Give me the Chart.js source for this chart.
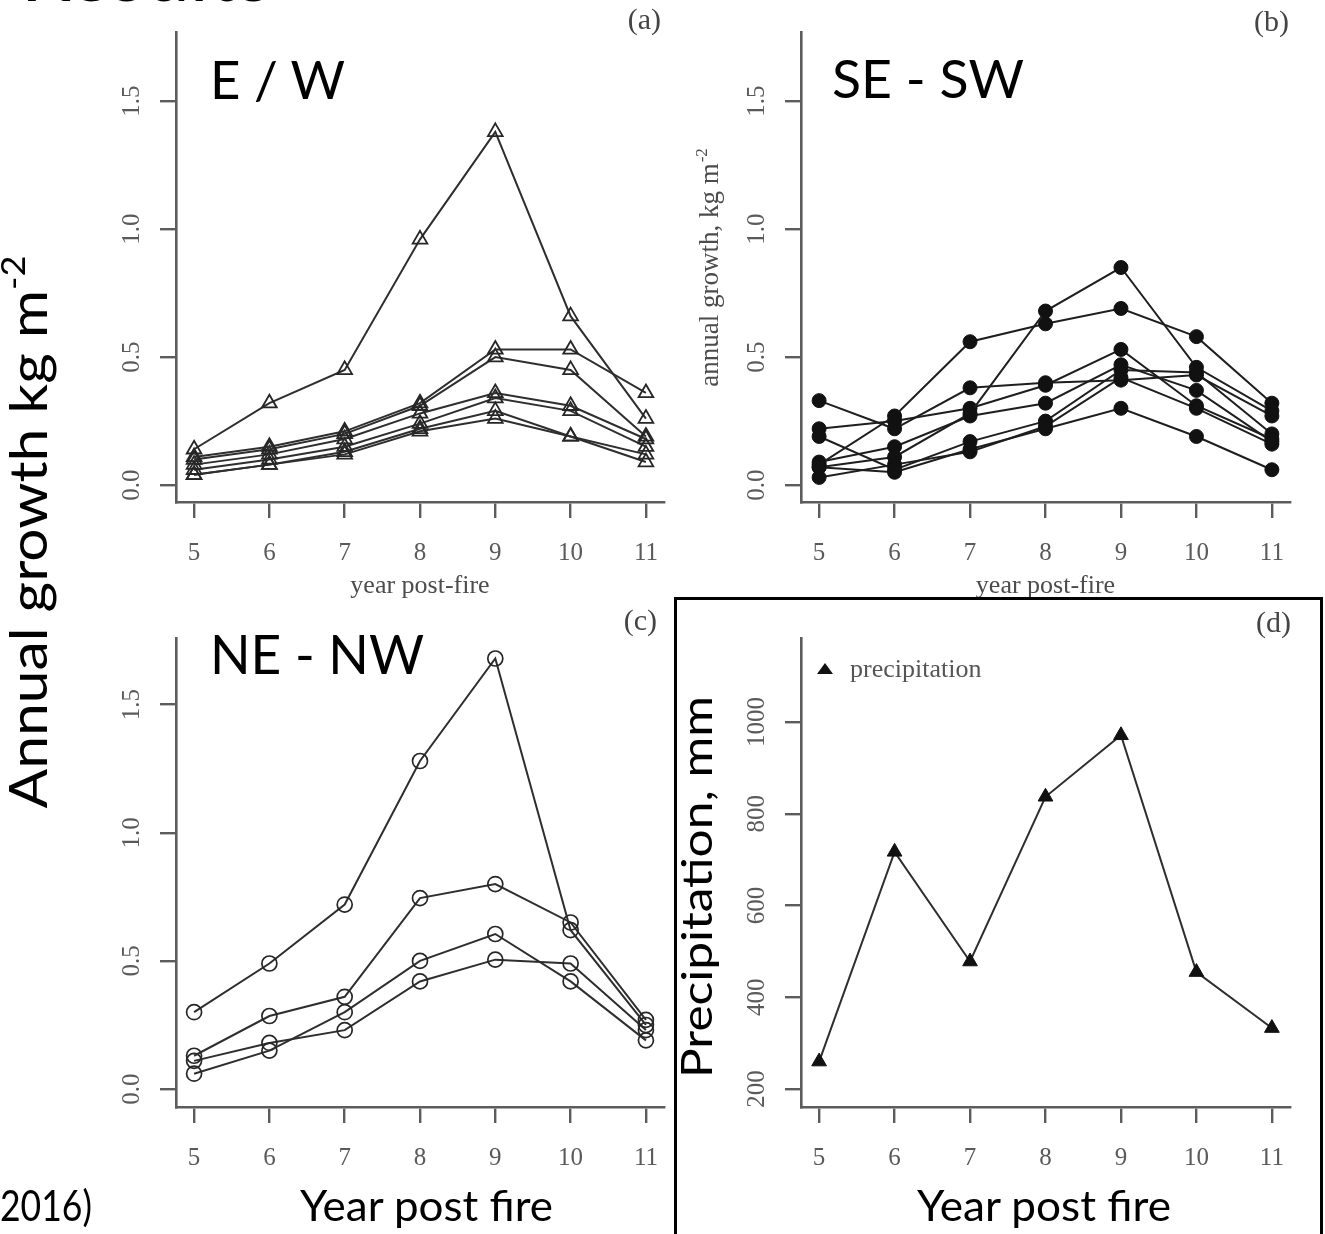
<!DOCTYPE html>
<html>
<head>
<meta charset="utf-8">
<title>Annual growth by aspect and precipitation, year post fire</title>
<script src="https://cdn.jsdelivr.net/npm/chart.js@4.4.1/dist/chart.umd.min.js"></script>
<style>
  html, body { margin: 0; padding: 0; background: #fff; }
  #page { position: relative; width: 1325px; height: 1234px; overflow: hidden; background: #fff; }
  #page canvas, #page svg { position: absolute; left: 0; top: 0; }
  svg text { font-family: Lato, "Open Sans", sans-serif; fill: #000; }
</style>
</head>
<body>
<div id="page">
  <canvas id="chartA" width="1325" height="1234"></canvas>
  <canvas id="chartB" width="1325" height="1234"></canvas>
  <canvas id="chartC" width="1325" height="1234"></canvas>
  <canvas id="chartD" width="1325" height="1234"></canvas>
  <svg width="1325" height="1234" viewBox="0 0 1325 1234">
    <text x="272" y="1" font-size="80" text-anchor="end">Results</text>
    <text x="210" y="99" font-size="52" textLength="135" lengthAdjust="spacingAndGlyphs">E / W</text>
    <text x="832" y="98" font-size="52" textLength="192" lengthAdjust="spacingAndGlyphs">SE - SW</text>
    <text x="210" y="674" font-size="54" textLength="214" lengthAdjust="spacingAndGlyphs">NE - NW</text>
    <text x="300" y="1221" font-size="43" textLength="253" lengthAdjust="spacingAndGlyphs">Year post fire</text>
    <text x="917" y="1221" font-size="43" textLength="254" lengthAdjust="spacingAndGlyphs">Year post fire</text>
    <text x="0" y="1221" font-size="43" textLength="92" lengthAdjust="spacingAndGlyphs">2016)</text>
    <text transform="translate(47,532) rotate(-90)" text-anchor="middle" font-size="52" textLength="553" lengthAdjust="spacingAndGlyphs">Annual growth kg m<tspan font-size="32" dy="-22">-2</tspan></text>
    <text transform="translate(712,887) rotate(-90)" text-anchor="middle" font-size="42" textLength="382" lengthAdjust="spacingAndGlyphs">Precipitation, mm</text>
    <rect x="675.5" y="598.5" width="646" height="700" fill="none" stroke="#000" stroke-width="3"/>
  </svg>
</div>
<script>
const years = [5, 6, 7, 8, 9, 10, 11];
const yearTicks = [5, 6, 7, 8, 9, 10, 11];
const growthTicks = [0, 0.5, 1.0, 1.5];
const precipTicks = [200, 400, 600, 800, 1000];

// (a) E / W - open triangles
const ew1 = [0.14, 0.32, 0.45, 0.96, 1.38, 0.66, 0.26];
const ew2 = [0.11, 0.15, 0.21, 0.32, 0.53, 0.53, 0.36];
const ew3 = [0.10, 0.14, 0.20, 0.31, 0.50, 0.45, 0.19];
const ew4 = [0.08, 0.12, 0.18, 0.28, 0.36, 0.31, 0.18];
const ew5 = [0.06, 0.10, 0.15, 0.24, 0.34, 0.29, 0.15];
const ew6 = [0.04, 0.08, 0.13, 0.22, 0.29, 0.19, 0.12];
const ew7 = [0.04, 0.08, 0.12, 0.21, 0.26, 0.19, 0.09];

// (b) SE - SW - filled circles
const se1 = [0.07, 0.11, 0.28, 0.68, 0.85, 0.46, 0.29];
const se2 = [0.08, 0.27, 0.56, 0.63, 0.69, 0.58, 0.32];
const se3 = [0.33, 0.22, 0.38, 0.40, 0.41, 0.43, 0.27];
const se4 = [0.22, 0.25, 0.30, 0.39, 0.53, 0.31, 0.18];
const se5 = [0.19, 0.06, 0.17, 0.25, 0.45, 0.44, 0.20];
const se6 = [0.09, 0.15, 0.27, 0.32, 0.47, 0.37, 0.17];
const se7 = [0.03, 0.08, 0.13, 0.23, 0.42, 0.30, 0.16];
const se8 = [0.07, 0.05, 0.14, 0.22, 0.30, 0.19, 0.06];

// (c) NE - NW - open circles
const ne1 = [0.30, 0.49, 0.72, 1.28, 1.68, 0.62, 0.25];
const ne2 = [0.13, 0.285, 0.36, 0.745, 0.80, 0.65, 0.27];
const ne3 = [0.06, 0.15, 0.30, 0.50, 0.605, 0.42, 0.19];
const ne4 = [0.11, 0.18, 0.23, 0.42, 0.505, 0.49, 0.23];

// (d) precipitation, mm
const precipitation = [260, 717, 478, 837, 971, 455, 333];

const SERIF = '"Liberation Serif", "DejaVu Serif", serif';
const AXIS = '#5c5c5c';

// R-style labels: rotated y ticks, x ticks, titles, panel letter, legend
const rLabels = {
  id: 'rLabels',
  afterDraw(chart, args, o) {
    const { ctx, chartArea: a } = chart;
    const xs = chart.scales.x, ys = chart.scales.y;
    ctx.save();
    ctx.fillStyle = '#5a5a5a';
    ctx.font = '25px ' + SERIF;
    ctx.textAlign = 'center';
    ctx.textBaseline = 'alphabetic';
    xs.ticks.forEach(t => ctx.fillText(String(t.value), xs.getPixelForValue(t.value), a.bottom + 58));
    ys.ticks.forEach(t => {
      ctx.save();
      ctx.translate(a.left - 37, ys.getPixelForValue(t.value));
      ctx.rotate(-Math.PI / 2);
      ctx.fillText(t.value.toFixed(o.decimals), 0, 0);
      ctx.restore();
    });
    ctx.fillStyle = '#4c4c4c';
    ctx.font = '26px ' + SERIF;
    if (o.xTitle) ctx.fillText(o.xTitle, (a.left + a.right) / 2, a.bottom + 91);
    if (o.yTitle) {
      ctx.save();
      ctx.translate(a.left - 83, o.yTitleY);
      ctx.rotate(-Math.PI / 2);
      ctx.font = '27px ' + SERIF;
      const w1 = ctx.measureText(o.yTitle).width;
      ctx.font = '17px ' + SERIF;
      const w2 = ctx.measureText('-2').width;
      ctx.textAlign = 'left';
      ctx.font = '27px ' + SERIF;
      ctx.fillText(o.yTitle, -(w1 + w2) / 2, 0);
      ctx.font = '17px ' + SERIF;
      ctx.fillText('-2', -(w1 + w2) / 2 + w1 + 1, -11);
      ctx.restore();
    }
    ctx.font = '30px ' + SERIF;
    ctx.textAlign = 'right';
    ctx.fillStyle = '#444';
    ctx.fillText(o.letter, o.letterX, o.letterY);
    if (o.legend) {
      const lx = a.left + 24, ly = a.top + 31;
      ctx.fillStyle = '#111';
      ctx.beginPath();
      ctx.moveTo(lx, ly - 6);
      ctx.lineTo(lx + 8, ly + 5);
      ctx.lineTo(lx - 8, ly + 5);
      ctx.closePath();
      ctx.fill();
      ctx.fillStyle = '#555';
      ctx.font = '26px ' + SERIF;
      ctx.textAlign = 'left';
      ctx.fillText(o.legend, lx + 25, ly + 8);
    }
    ctx.restore();
  }
};

const axisGrid = { drawOnChartArea: false, drawTicks: true, tickLength: 16, color: AXIS, lineWidth: 2.4 };
const axisBorder = { display: true, color: AXIS, width: 2.6 };

function makePanel(id, area, yMin, yMax, yTicks, series, marker, labels) {
  const datasets = series.map(vals => ({
    data: vals.map((v, i) => ({ x: years[i], y: v })),
    borderColor: marker.line,
    borderWidth: 2,
    pointStyle: marker.style,
    pointRadius: marker.radius,
    pointBorderColor: marker.edge,
    pointBorderWidth: marker.edgeWidth,
    pointBackgroundColor: marker.fill,
    tension: 0,
    clip: false
  }));
  return new Chart(document.getElementById(id), {
    type: 'line',
    data: { datasets },
    options: {
      responsive: false,
      animation: false,
      events: [],
      layout: {
        padding: { left: area.left - 20, top: area.top, right: 1325 - area.right, bottom: 1234 - area.bottom - 20 }
      },
      scales: {
        x: {
          type: 'linear', min: 4.76, max: 11.24,
          afterBuildTicks: s => { s.ticks = yearTicks.map(v => ({ value: v })); },
          afterFit: s => { s.height = 20; },
          ticks: { display: false },
          grid: axisGrid, border: axisBorder
        },
        y: {
          type: 'linear', min: yMin, max: yMax,
          afterBuildTicks: s => { s.ticks = yTicks.map(v => ({ value: v })); },
          afterFit: s => { s.width = 20; },
          ticks: { display: false },
          grid: axisGrid, border: axisBorder
        }
      },
      plugins: { legend: { display: false }, tooltip: { enabled: false }, rLabels: labels }
    },
    plugins: [rLabels]
  });
}

const openTriangle = { style: 'triangle', radius: 8.5, line: '#2e2e2e', edge: '#262626', edgeWidth: 1.8, fill: 'rgba(0,0,0,0)' };
const filledCircle = { style: 'circle', radius: 7, line: '#1e1e1e', edge: '#111', edgeWidth: 1, fill: '#111' };
const openCircle = { style: 'circle', radius: 7.5, line: '#2e2e2e', edge: '#262626', edgeWidth: 1.7, fill: 'rgba(0,0,0,0)' };
const filledTriangle = { style: 'triangle', radius: 8.5, line: '#2e2e2e', edge: '#111', edgeWidth: 1, fill: '#111' };

makePanel('chartA', { left: 176, right: 664, top: 32, bottom: 502 }, -0.066, 1.77, growthTicks,
  [ew1, ew2, ew3, ew4, ew5, ew6, ew7], openTriangle,
  { decimals: 1, xTitle: 'year post-fire', letter: '(a)', letterX: 661, letterY: 29 });

makePanel('chartB', { left: 801, right: 1290, top: 32, bottom: 502 }, -0.066, 1.77, growthTicks,
  [se1, se2, se3, se4, se5, se6, se7, se8], filledCircle,
  { decimals: 1, xTitle: 'year post-fire', yTitle: 'annual growth, kg m', yTitleY: 268, letter: '(b)', letterX: 1289, letterY: 31 });

makePanel('chartC', { left: 176, right: 664, top: 638, bottom: 1107 }, -0.07, 1.76, growthTicks,
  [ne1, ne2, ne3, ne4], openCircle,
  { decimals: 1, letter: '(c)', letterX: 657, letterY: 630 });

makePanel('chartD', { left: 801, right: 1290, top: 638, bottom: 1107 }, 161, 1183, precipTicks,
  [precipitation], filledTriangle,
  { decimals: 0, letter: '(d)', letterX: 1291, letterY: 632, legend: 'precipitation' });
</script>
</body>
</html>
